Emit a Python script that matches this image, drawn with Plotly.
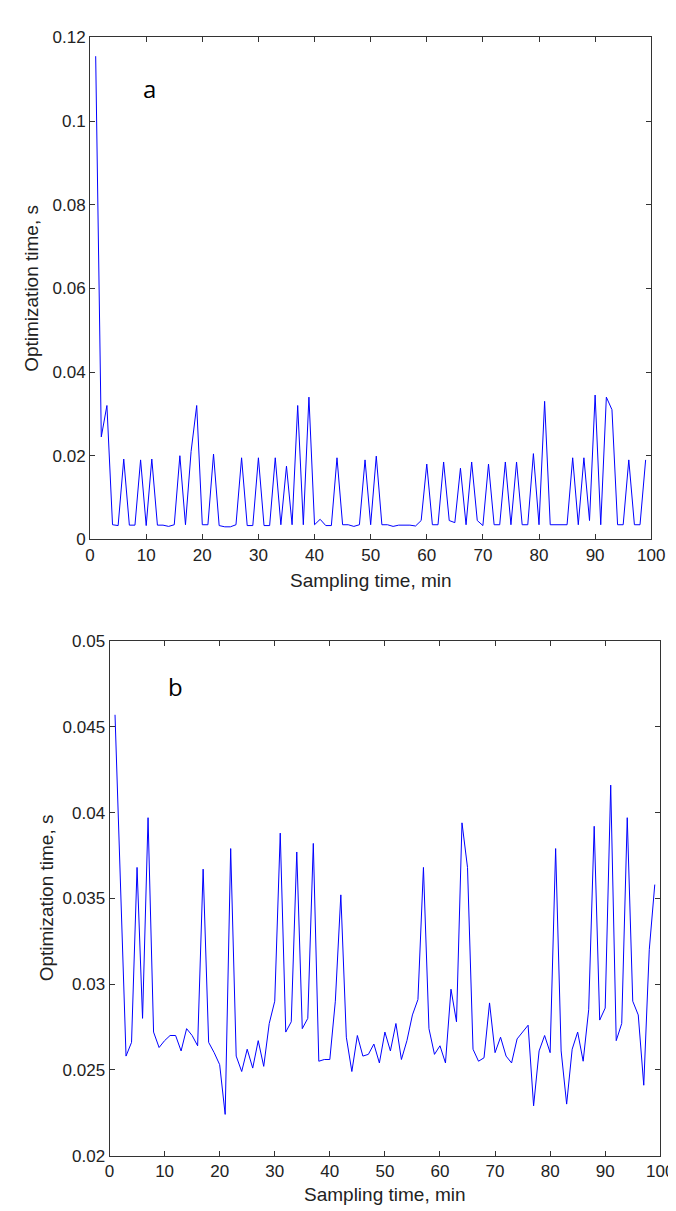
import plotly.graph_objects as go

W, H = 676, 1211

minutes = list(range(1, 100))

opt_time_a = [
    0.1155, 0.0245, 0.032, 0.0035, 0.0033, 0.0192, 0.0034, 0.0034, 0.019, 0.0033,
    0.0192, 0.0034, 0.0034, 0.0031, 0.0035, 0.020, 0.0035, 0.021, 0.032, 0.0035,
    0.0035, 0.0204, 0.0033, 0.0030, 0.0030, 0.0035, 0.0195, 0.0033, 0.0033, 0.0195,
    0.0033, 0.0033, 0.0195, 0.0035, 0.0175, 0.0035, 0.032, 0.0035, 0.034, 0.0035,
    0.0048, 0.0033, 0.0033, 0.0195, 0.0035, 0.0035, 0.0031, 0.0035, 0.019, 0.0035,
    0.0199, 0.0035, 0.0035, 0.0031, 0.0034, 0.0034, 0.0034, 0.0032, 0.0045, 0.018,
    0.0035, 0.0035, 0.0185, 0.0045, 0.004, 0.017, 0.0035, 0.0185, 0.0045, 0.0033,
    0.018, 0.0035, 0.0035, 0.0185, 0.0035, 0.0185, 0.0035, 0.0035, 0.0205, 0.0035,
    0.033, 0.0035, 0.0035, 0.0035, 0.0035, 0.0195, 0.0035, 0.0195, 0.0045, 0.0345,
    0.0035, 0.034, 0.031, 0.0035, 0.0035, 0.019, 0.0035, 0.0035, 0.019,
]

opt_time_b = [
    0.0457, 0.036, 0.0258, 0.0266, 0.0368, 0.028, 0.0397, 0.0272, 0.0263, 0.0267,
    0.027, 0.027, 0.0261, 0.0274, 0.027, 0.0264, 0.0367, 0.0266, 0.026, 0.0253,
    0.0224, 0.0379, 0.0258, 0.0249, 0.0262, 0.0251, 0.0267, 0.0252, 0.0277, 0.029,
    0.0388, 0.0272, 0.0278, 0.0377, 0.0274, 0.028, 0.0382, 0.0255, 0.0256, 0.0256,
    0.029, 0.0352, 0.0269, 0.0249, 0.027, 0.0258, 0.0259, 0.0265, 0.0254, 0.0272,
    0.0261, 0.0277, 0.0256, 0.0267, 0.0282, 0.0291, 0.0368, 0.0274, 0.0259, 0.0264,
    0.0254, 0.0297, 0.0278, 0.0394, 0.0368, 0.0262, 0.0255, 0.0257, 0.0289, 0.026,
    0.0269, 0.0258, 0.0254, 0.0268, 0.0272, 0.0276, 0.0229, 0.0261, 0.027, 0.026,
    0.0379, 0.0261, 0.023, 0.0262, 0.0272, 0.0255, 0.0285, 0.0392, 0.0279, 0.0286,
    0.0416, 0.0267, 0.0277, 0.0397, 0.029, 0.0282, 0.0241, 0.032, 0.0358,
]

x_ticks = [0, 10, 20, 30, 40, 50, 60, 70, 80, 90, 100]
y_ticks_a = [0, 0.02, 0.04, 0.06, 0.08, 0.1, 0.12]
y_ticks_a_text = ["0", "0.02", "0.04", "0.06", "0.08", "0.1", "0.12"]
y_ticks_b = [0.02, 0.025, 0.03, 0.035, 0.04, 0.045, 0.05]
y_ticks_b_text = ["0.02", "0.025", "0.03", "0.035", "0.04", "0.045", "0.05"]

x_title = "Sampling time, min"
y_title = "Optimization time, s"

# pixel geometry of the two axes boxes
A_L, A_R, A_TOP, A_BOT = 79.3, 656.7, 20.7, 530.7
B_L, B_R, B_TOP, B_BOT = 99.3, 666.0, 634.0, 1156.7

def fx(px):
    return px / W

def fy(py):
    return 1 - py / H

FONT = "Liberation Sans, Arial"
tick_font = dict(family=FONT, size=17, color="#222")
line_blue = dict(color="#0000ff", width=1)

fig = go.Figure()
fig.add_trace(go.Scatter(x=minutes, y=opt_time_a, mode="lines", line=line_blue,
                         xaxis="x", yaxis="y", showlegend=False))
fig.add_trace(go.Scatter(x=minutes, y=opt_time_b, mode="lines", line=line_blue,
                         xaxis="x2", yaxis="y2", showlegend=False))

axis_common = dict(showline=True, linecolor="#333", linewidth=1, mirror="ticks",
                   ticks="inside", ticklen=5, tickcolor="#333", tickfont=tick_font,
                   showgrid=False, zeroline=False)

fig.update_layout(
    width=W, height=H,
    margin=dict(l=0, r=0, t=0, b=0),
    paper_bgcolor="white", plot_bgcolor="white",
    xaxis=dict(domain=[fx(A_L), fx(A_R)], anchor="y", range=[0, 100],
               tickvals=x_ticks, **axis_common),
    yaxis=dict(domain=[fy(A_BOT), fy(A_TOP)], anchor="x", range=[0, 0.12],
               tickvals=y_ticks_a, ticktext=y_ticks_a_text, **axis_common),
    xaxis2=dict(domain=[fx(B_L), fx(B_R)], anchor="y2", range=[0, 100],
                tickvals=x_ticks, **axis_common),
    yaxis2=dict(domain=[fy(B_BOT), fy(B_TOP)], anchor="x2", range=[0.02, 0.05],
                tickvals=y_ticks_b, ticktext=y_ticks_b_text, **axis_common),
)

title_font = dict(family=FONT, size=19, color="#222")
panel_font = dict(family="Open Sans, Liberation Sans", size=24, color="black")

annotations = [
    dict(text=x_title, x=fx((A_L + A_R) / 2), y=fy(572), xref="paper", yref="paper",
         showarrow=False, font=title_font, xanchor="center", yanchor="middle"),
    dict(text=x_title, x=fx((B_L + B_R) / 2), y=fy(1196), xref="paper", yref="paper",
         showarrow=False, font=title_font, xanchor="center", yanchor="middle"),
    dict(text=y_title, x=fx(19), y=fy((A_TOP + A_BOT) / 2), xref="paper", yref="paper",
         showarrow=False, font=title_font, textangle=-90, xanchor="center", yanchor="middle"),
    dict(text=y_title, x=fx(34), y=fy((B_TOP + B_BOT) / 2), xref="paper", yref="paper",
         showarrow=False, font=title_font, textangle=-90, xanchor="center", yanchor="middle"),
    dict(text="a", x=fx(140), y=fy(73), xref="paper", yref="paper",
         showarrow=False, font=panel_font, xanchor="center", yanchor="middle"),
    dict(text="b", x=fx(167), y=fy(680), xref="paper", yref="paper",
         showarrow=False, font=panel_font, xanchor="center", yanchor="middle"),
]
fig.update_layout(annotations=annotations)

fig.write_html("out.html")
